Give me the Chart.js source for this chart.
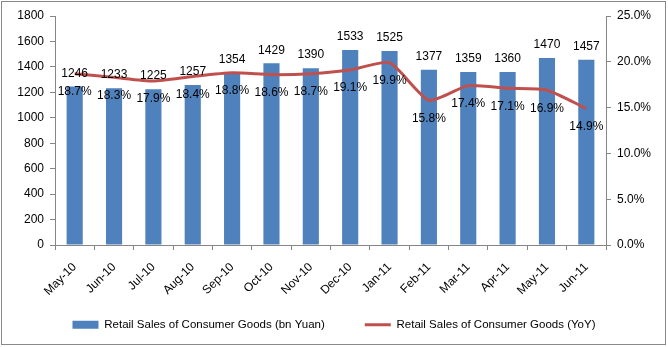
<!DOCTYPE html>
<html>
<head>
<meta charset="utf-8">
<script src="https://cdn.jsdelivr.net/npm/chart.js@4.4.1/dist/chart.umd.min.js"></script>
<style>
  html, body { margin: 0; padding: 0; background: #fff; }
  #wrap { width: 668px; height: 347px; position: relative; }
</style>
</head>
<body>
<div id="wrap"><canvas id="salesChart" width="668" height="347"></canvas></div>
<script>
// months on the x axis
const months = ["May-10", "Jun-10", "Jul-10", "Aug-10", "Sep-10", "Oct-10", "Nov-10",
  "Dec-10", "Jan-11", "Feb-11", "Mar-11", "Apr-11", "May-11", "Jun-11"];
// retail sales, bn yuan
const sales = [1246, 1233, 1225, 1257, 1354, 1429, 1390, 1533, 1525, 1377, 1359, 1360, 1470, 1457];
// year on year growth, percent
const yoy = [18.7, 18.3, 17.9, 18.4, 18.8, 18.6, 18.7, 19.1, 19.9, 15.8, 17.4, 17.1, 16.9, 14.9];

const FONT = "'Liberation Sans', Arial, sans-serif";
const axisGrey = "#868686";

// outer frame round the whole chart
const framePlugin = {
  id: 'frame',
  beforeDraw(chart) {
    const ctx = chart.ctx;
    ctx.save();
    ctx.fillStyle = "#fff";
    ctx.fillRect(0, 0, chart.width, chart.height);
    ctx.strokeStyle = "#888";
    ctx.lineWidth = 1;
    ctx.strokeRect(1.5, 1.5, chart.width - 4, chart.height - 4);
    ctx.restore();
  }
};

// value labels: above the bars, below the line points
const valueLabels = {
  id: 'valueLabels',
  afterDatasetsDraw(chart) {
    const ctx = chart.ctx;
    ctx.save();
    ctx.font = "12px " + FONT;
    ctx.fillStyle = "#000";
    ctx.textAlign = "center";
    ctx.textBaseline = "middle";
    chart.getDatasetMeta(0).data.forEach((el, i) => {
      ctx.fillText(String(sales[i]), el.x, el.y - 13);
    });
    chart.getDatasetMeta(1).data.forEach((el, i) => {
      ctx.fillText(yoy[i].toFixed(1) + "%", el.x, el.y + 18);
    });
    ctx.restore();
  }
};

const chart = new Chart(document.getElementById('salesChart').getContext('2d'), {
  type: 'bar',
  data: {
    labels: months,
    datasets: [
      {
        type: 'bar',
        label: "Retail Sales of Consumer Goods (bn Yuan)",
        data: sales,
        backgroundColor: "#4F81BD",
        borderWidth: 0,
        barPercentage: 0.41,
        categoryPercentage: 1.0,
        yAxisID: 'y',
        order: 2
      },
      {
        type: 'line',
        label: "Retail Sales of Consumer Goods (YoY)",
        data: yoy,
        borderColor: "#C0504D",
        backgroundColor: "#C0504D",
        borderWidth: 3,
        pointRadius: 0,
        tension: 0.2,
        yAxisID: 'y1',
        order: 1
      }
    ]
  },
  options: {
    responsive: false,
    animation: false,
    layout: { padding: { top: 16, left: 0, right: 0, bottom: 6.5 } },
    scales: {
      x: {
        grid: { display: true, drawOnChartArea: false, offset: true, color: axisGrey, tickLength: 5 },
        border: { color: axisGrey },
        ticks: { color: "#000", font: { family: FONT, size: 12 }, minRotation: 45, maxRotation: 45, padding: 10 },
        afterFit(s) {
          s.height = 34;
          // month labels hang down past the axis box into the legend band; don't clip them
          s._computeLabelArea = () => null;
        }
      },
      y: {
        position: 'left',
        min: 0, max: 1800,
        ticks: { stepSize: 200, color: "#000", font: { family: FONT, size: 12 }, padding: 6,
          callback: v => String(v) },
        grid: { drawOnChartArea: false, color: axisGrey, tickLength: 5 },
        border: { color: axisGrey },
        afterFit(s) { s.width = 55; }
      },
      y1: {
        position: 'right',
        min: 0, max: 25,
        ticks: {
          stepSize: 5, color: "#000", font: { family: FONT, size: 12 }, padding: 6,
          callback: v => v.toFixed(1) + "%"
        },
        grid: { drawOnChartArea: false, color: axisGrey, tickLength: 5 },
        border: { color: axisGrey },
        afterFit(s) { s.width = 62; }
      }
    },
    plugins: {
      tooltip: { enabled: false },
      legend: {
        position: 'bottom',
        labels: {
          color: "#000",
          font: { family: FONT, size: 11.5 },
          usePointStyle: true,
          pointStyleWidth: 26,
          boxHeight: 8,
          padding: 40,
          sort: (a, b) => a.datasetIndex - b.datasetIndex,
          generateLabels(c) {
            const items = Chart.defaults.plugins.legend.labels.generateLabels(c);
            items.forEach(it => {
              if (it.datasetIndex === 0) {
                it.pointStyle = 'rect';
                it.lineWidth = 0;
              } else {
                it.pointStyle = 'line';
                it.strokeStyle = "#C0504D";
                it.lineWidth = 3;
              }
            });
            return items;
          }
        }
      }
    }
  },
  plugins: [framePlugin, valueLabels]
});
</script>
</body>
</html>
